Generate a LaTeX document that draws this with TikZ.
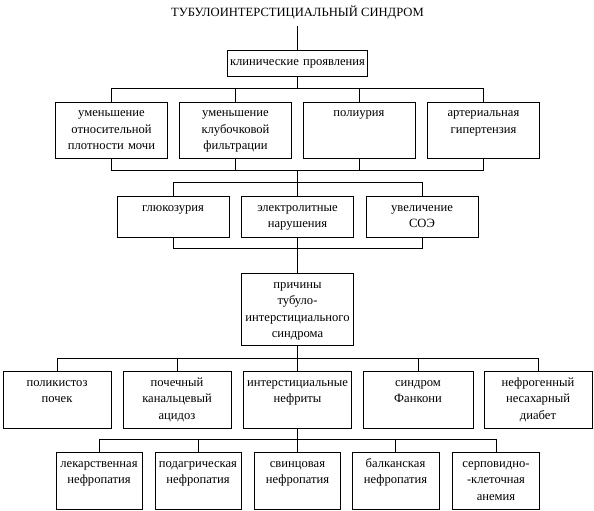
\documentclass[tikz,border=0pt]{standalone}
\usepackage{fontspec}
\setmainfont{Liberation Serif}

\begin{document}
\begin{tikzpicture}[x=1pt, y=-1pt, line width=0.8pt,
  every node/.style={font=\fontsize{12.6}{16.3}\selectfont},
  box/.style 2 args={draw, anchor=north, inner sep=0pt, text width=#1, align=center,
    text height=15pt, text depth={#2-15pt}}]
  \useasboundingbox (0,0) rectangle (594,511);

  \node[anchor=base, inner sep=0pt, text depth=9pt] (title) at (297.5,17) {ТУБУЛОИНТЕРСТИЦИАЛЬНЫЙ СИНДРОМ};
  \node[box={140pt}{26pt}] (clin) at (297.5,50) {клинические проявления};

  \node[box={112pt}{56.5pt}] (dens) at (111.5,101.5) {уменьшение\\относительной\\плотности мочи};
  \node[box={112pt}{56.5pt}] (filt) at (235.5,101.5) {уменьшение\\клубочковой\\фильтрации};
  \node[box={112pt}{56.5pt}] (poly) at (359,101.5) {полиурия};
  \node[box={112pt}{56.5pt}] (hyp) at (483.5,101.5) {артериальная\\гипертензия};

  \node[box={112pt}{41pt}] (gluc) at (173,196) {глюкозурия};
  \node[box={112pt}{41pt}] (elec) at (297.5,196) {электролитные\\нарушения};
  \node[box={112pt}{41pt}] (esr) at (422,196) {увеличение\\СОЭ};

  \node[box={112pt}{72pt}] (cause) at (297.5,273) {причины\\тубуло-\\интерстициального\\синдрома};

  \node[box={108pt}{56.5pt}] (cyst) at (57,371) {поликистоз\\почек};
  \node[box={108pt}{56.5pt}] (acid) at (177,371) {почечный\\канальцевый\\ацидоз};
  \node[box={108pt}{56.5pt}] (inter) at (297.5,371) {интерстициальные\\нефриты};
  \node[box={110pt}{56.5pt}] (fanc) at (418,371) {синдром\\Фанкони};
  \node[box={108pt}{56.5pt}] (diab) at (538,371) {нефрогенный\\несахарный\\диабет};

  \node[box={86pt}{57pt}] (drug) at (99,452) {лекарственная\\нефропатия};
  \node[box={86pt}{57pt}] (gout) at (198,452) {подагрическая\\нефропатия};
  \node[box={86pt}{57pt}] (lead) at (297.5,452) {свинцовая\\нефропатия};
  \node[box={87pt}{57pt}] (balk) at (395.5,452) {балканская\\нефропатия};
  \node[box={87pt}{57pt}] (sick) at (496,452) {серповидно-\\-клеточная\\анемия};

  \coordinate (b1) at (297.5,88.5);
  \coordinate (b2) at (297.5,170);
  \coordinate (b3) at (297.5,182);
  \coordinate (b4) at (297.5,248);
  \coordinate (b5) at (297.5,358);
  \coordinate (b6) at (297.5,439.5);

  \draw (title.south) -- (clin.north);
  \foreach \n in {dens,filt,poly,hyp} \draw (clin.south) -- (b1) -| (\n.north);
  \foreach \n in {dens,filt,poly,hyp} \draw (\n.south) |- (b2);
  \draw (b2) -- (b3);
  \foreach \n in {gluc,elec,esr} \draw (b3) -| (\n.north);
  \foreach \n in {gluc,elec,esr} \draw (\n.south) |- (b4);
  \draw (b4) -- (cause.north);
  \draw (cause.south) -- (b5);
  \foreach \n in {cyst,acid,inter,fanc,diab} \draw (b5) -| (\n.north);
  \draw (inter.south) -- (b6);
  \foreach \n in {drug,gout,lead,balk,sick} \draw (b6) -| (\n.north);
\end{tikzpicture}
\end{document}
